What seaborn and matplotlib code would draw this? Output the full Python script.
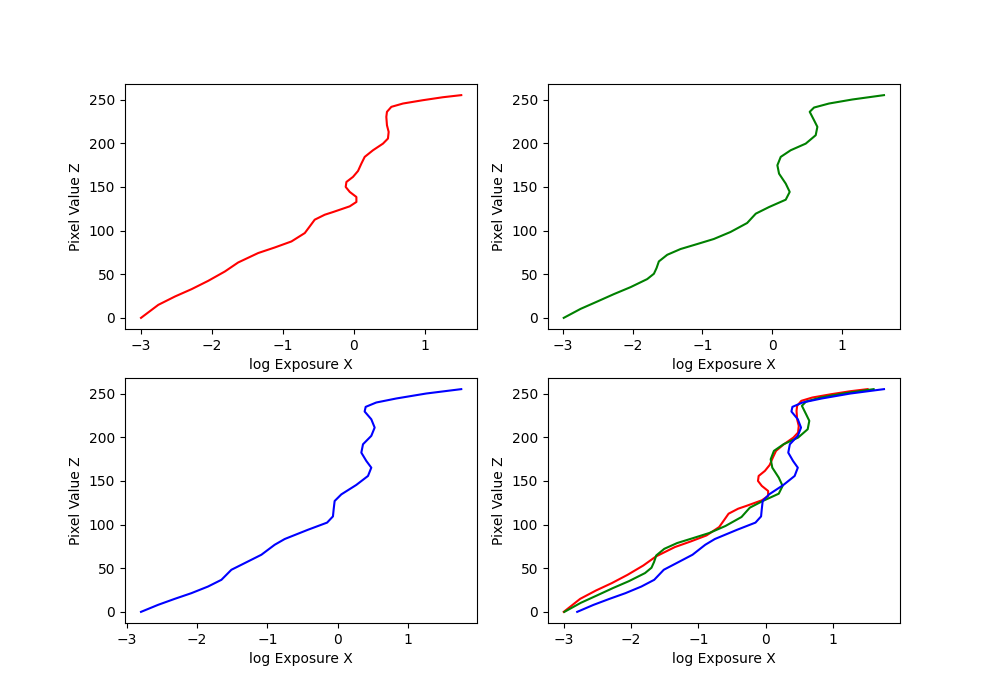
import numpy as np
import pandas as pd
import seaborn as sns
import matplotlib
import matplotlib.pyplot as plt
matplotlib.use('Agg')

# Response curves: log exposure (x) per pixel value (Z)
red_x = [-3.0, -2.756, -2.52, -2.286, -2.052, -1.817, -1.63, -1.348, -1.113, -0.878,
         -0.69, -0.62, -0.55, -0.408, -0.29, -0.056, 0.038, 0.038, -0.056, -0.113,
         -0.103, -0.01, 0.061, 0.108, 0.155, 0.272, 0.413, 0.483, 0.493, 0.469,
         0.46, 0.469, 0.531, 0.695, 0.976, 1.258, 1.517]
red_z = [0, 14.9, 24.5, 32.9, 42.4, 53.1, 63.4, 74.2, 80.6, 87.5,
         97.1, 104.7, 112.4, 118.1, 121.2, 127.7, 132.7, 138.4, 144.2, 149.9,
         155.6, 161.4, 168.2, 176.6, 184.3, 191.9, 199.5, 205.3, 212.9, 220.5,
         230.1, 235.9, 241.6, 245.4, 249.2, 252.6, 255]

green_x = [-2.99, -2.748, -2.509, -2.27, -2.03, -1.792, -1.696, -1.658, -1.625, -1.505,
           -1.314, -1.075, -0.836, -0.597, -0.358, -0.234, -0.043, 0.196, 0.253, 0.196,
           0.10, 0.076, 0.124, 0.267, 0.483, 0.626, 0.65, 0.602, 0.54, 0.602,
           0.817, 1.151, 1.606]
green_z = [0, 10.3, 18.7, 27.2, 35.2, 44.4, 50.5, 57, 64.6, 72.2,
           78.8, 84.5, 90.3, 98.3, 108.6, 119.3, 126.9, 135.3, 144.2, 153.7,
           165.1, 174.7, 184.3, 191.9, 199.5, 209.1, 218.7, 226.3, 235.9, 240.8,
           245.4, 250, 255]

blue_x = [-2.80, -2.558, -2.32, -2.083, -1.846, -1.655, -1.513, -1.324, -1.086, -0.897,
          -0.754, -0.423, -0.15, -0.067, -0.057, -0.043, 0.052, 0.265, 0.432, 0.479,
          0.408, 0.337, 0.361, 0.479, 0.527, 0.479, 0.384, 0.399, 0.55, 0.835,
          1.262, 1.76]
blue_z = [0, 8, 14.9, 21.4, 29, 36.7, 48.2, 55.8, 65.4, 76.8,
          83.4, 94, 102.2, 109.3, 117.3, 126.9, 134.5, 145.3, 155.6, 165.1,
          172.8, 182.3, 191.9, 201.5, 211, 220.5, 229.4, 234.7, 239.7, 244.3,
          250, 255]

curves = [('r', red_x, red_z), ('g', green_x, green_z), ('b', blue_x, blue_z)]

fig, axes = plt.subplots(2, 2, figsize=(10, 7))
panels = [axes[0, 0], axes[0, 1], axes[1, 0]]

for ax, (color, xs, zs) in zip(panels, curves):
    df = pd.DataFrame({'x': xs, 'z': zs})
    sns.lineplot(x='x', y='z', data=df, sort=False, estimator=None, color=color, ax=ax)

# all three together
for color, xs, zs in curves:
    df = pd.DataFrame({'x': xs, 'z': zs})
    sns.lineplot(x='x', y='z', data=df, sort=False, estimator=None, color=color, ax=axes[1, 1])

for ax in axes.flat:
    ax.set_xlabel('log Exposure X')
    ax.set_ylabel('Pixel Value Z')

plt.savefig('out.png', dpi=100)
